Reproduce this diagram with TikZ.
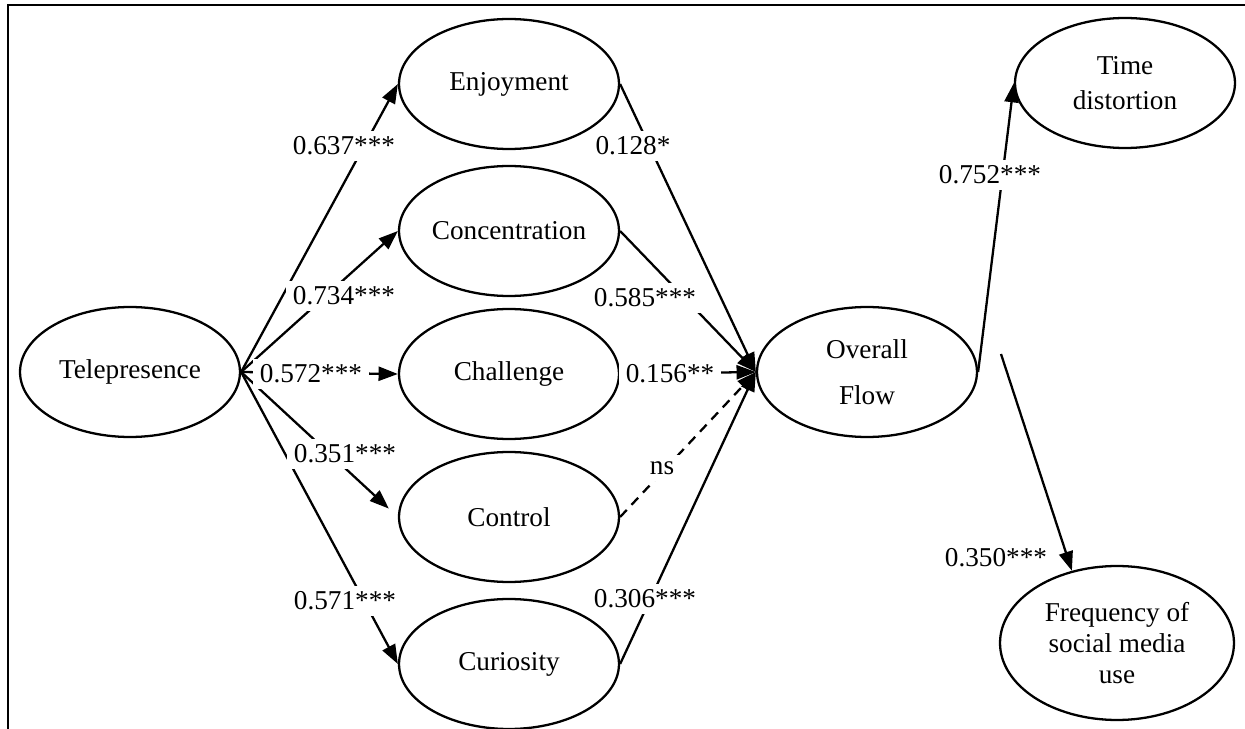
\documentclass[tikz,border=0pt]{standalone}
\usepackage{fontspec}
\setmainfont{Liberation Serif}
\usepackage{tikz}
\usetikzlibrary{shapes,arrows.meta,positioning}

\begin{document}
\begin{tikzpicture}[x=0.02cm,y=-0.02cm,
  font=\fontsize{15.5}{17.5}\selectfont,
  construct/.style={draw,ellipse,line width=1.3pt,inner sep=0pt,minimum width=4.4cm,minimum height=2.6cm,align=center},
  link/.style={line width=1.3pt,-{Triangle[length=11pt,width=8pt]}},
  coef/.style={fill=white,inner xsep=4pt,inner ysep=3.5pt}]
\useasboundingbox (0,0) rectangle (1245,729);
% Frame
\draw[line width=1.2pt] (1245,5) -- (8,5) -- (8,729);

% Constructs
\node[construct] (tele) at (130,372) {Telepresence};
\node[construct] (enjoy) at (509,84) {Enjoyment};
\node[construct] (conc) at (509,231) {Concentration};
\node[construct] (chal) at (509,374) {Challenge};
\node[construct] (ctrl) at (509,517) {Control};
\node[construct] (curio) at (509,664) {Curiosity};
\node[construct] (flow) at (867,372) {Overall\\[9pt]Flow};
\node[construct] (time) at (1125,83) {Time\\[2pt]distortion};
\node[construct,minimum width=4.68cm,minimum height=3.08cm] (freq) at (1117,643) {Frequency of\\social media\\use};

% Paths into the dimensions
\draw[link] (tele.east) -- (enjoy.west);
\draw[link] (tele.east) -- (conc.west);
\draw[link] (tele.east) -- (chal.west);
\draw[link,shorten >=7pt] (tele.east) -- (ctrl.west);
\draw[link] (tele.east) -- (curio.west);

% Paths into flow
\draw[link] (enjoy.east) -- (flow.west);
\draw[link] (conc.east) -- (flow.west);
\draw[link] (chal.east) -- (flow.west);
\draw[link,dash pattern=on 5.5pt off 4pt] (ctrl.east) -- (flow.west);
\draw[link] (curio.east) -- (flow.west);

% Outcomes
\coordinate (fstart) at (1001,354);
\draw[link] (flow.east) -- (time.west);
\draw[link] (fstart) -- (freq.122);

% Coefficients
\node[coef] (c637) at (344,146) {0.637***};
\node[coef] (c734) at (344,296) {0.734***};
\node[coef] (c572) at (311,374) {0.572***};
\node[coef] (c351) at (345,454) {0.351***};
\node[coef] (c571) at (345,601) {0.571***};
\node[coef] (c128) at (633,146) {0.128*};
\node[coef] (c585) at (645,298) {0.585***};
\node[coef] (c156) at (670,374) {0.156**};
\node[coef] (cns) at (662,468) {ns};
\node[coef] (c306) at (645,599) {0.306***};
\node[coef] (c752) at (990,175) {0.752***};
\node[coef] (c350) at (996,558) {0.350***};
\end{tikzpicture}
\end{document}
